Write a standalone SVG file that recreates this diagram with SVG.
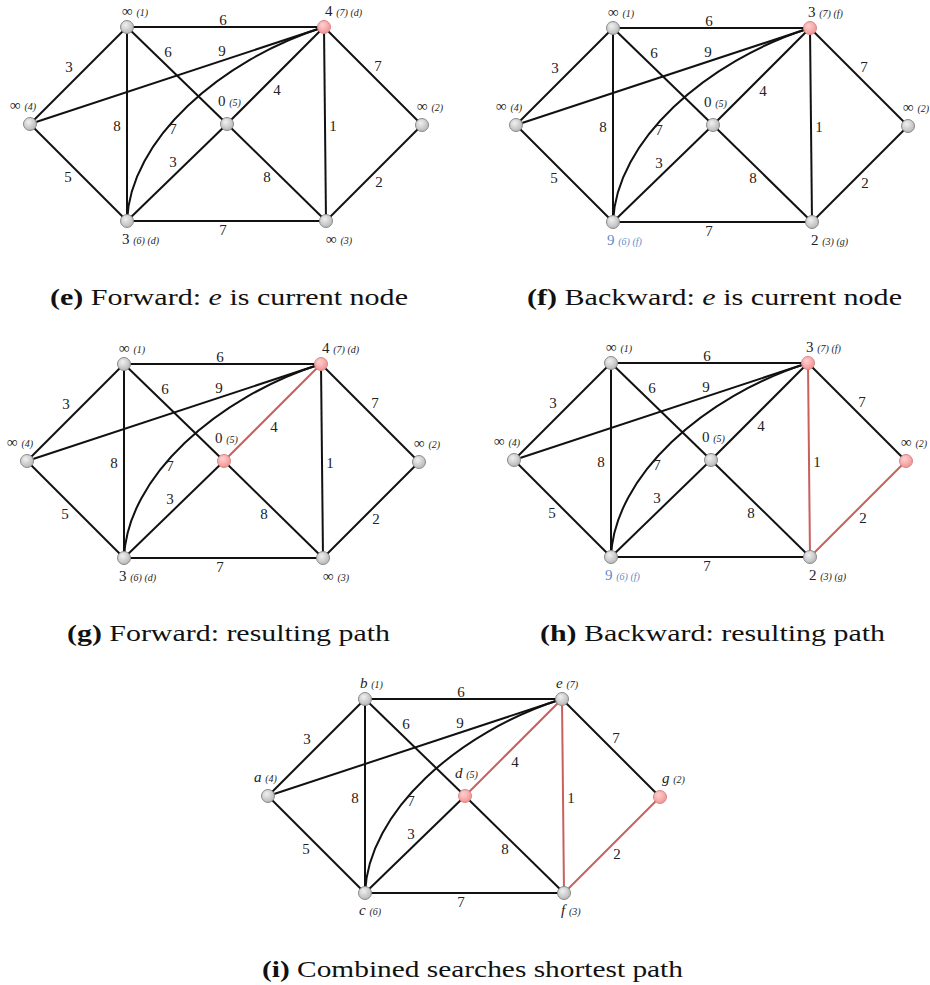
<svg xmlns="http://www.w3.org/2000/svg" width="930" height="985" viewBox="0 0 930 985">
<defs>
<radialGradient id="gGray" cx="0.4" cy="0.35" r="0.7">
<stop offset="0" stop-color="#f0f0f0"/><stop offset="1" stop-color="#b4b4b4"/>
</radialGradient>
<radialGradient id="gPink" cx="0.4" cy="0.35" r="0.7">
<stop offset="0" stop-color="#ffd0d0"/><stop offset="1" stop-color="#f09090"/>
</radialGradient>
</defs>
<style>
.edge{stroke:#111;stroke-width:2;fill:none}
.red{stroke:#c8605e;stroke-width:2;fill:none}
.el{font-family:"Liberation Serif",serif;font-size:15px;fill:#222;text-anchor:middle}
.nl{font-family:"Liberation Serif",serif;font-size:15px;fill:#222}
.nl .s{font-size:10px;font-style:italic}
.nl .i{font-style:italic}
.blue{fill:#5f8ccc}
.n{fill:url(#gGray);stroke:#8a8a8a;stroke-width:1}
.p{fill:url(#gPink);stroke:#d88888;stroke-width:1}
.cap{font-family:"Liberation Serif",serif;font-size:24px;fill:#111}
.cap .b{font-weight:bold}
.cap .i{font-style:italic}
</style>
<rect width="930" height="985" fill="#fff"/>

<!-- Panel e -->
<g id="panel-e">
<g id="e-connectors">
<line class="edge" x1="30" y1="124" x2="127" y2="27"/>
<line class="edge" x1="30" y1="124" x2="127" y2="221"/>
<line class="edge" x1="30" y1="124" x2="324" y2="27"/>
<line class="edge" x1="127" y1="27" x2="324" y2="27"/>
<line class="edge" x1="127" y1="27" x2="127" y2="221"/>
<line class="edge" x1="127" y1="27" x2="227" y2="124"/>
<path class="edge" d="M127,221 C130,140 220,60 324,27"/>
<line class="edge" x1="127" y1="221" x2="227" y2="124"/>
<line class="edge" x1="227" y1="124" x2="324" y2="27"/>
<line class="edge" x1="127" y1="221" x2="326" y2="221"/>
<line class="edge" x1="227" y1="124" x2="326" y2="221"/>
<line class="edge" x1="324" y1="27" x2="326" y2="221"/>
<line class="edge" x1="324" y1="27" x2="422" y2="125"/>
<line class="edge" x1="326" y1="221" x2="422" y2="125"/>
<text class="el" x="223" y="25">6</text>
<text class="el" x="168" y="57">6</text>
<text class="el" x="222" y="56">9</text>
<text class="el" x="69" y="72">3</text>
<text class="el" x="117" y="131">8</text>
<text class="el" x="173" y="134">7</text>
<text class="el" x="277" y="95">4</text>
<text class="el" x="333" y="131">1</text>
<text class="el" x="378" y="71">7</text>
<text class="el" x="173" y="167">3</text>
<text class="el" x="68" y="182">5</text>
<text class="el" x="267" y="182">8</text>
<text class="el" x="379" y="187">2</text>
<text class="el" x="223" y="235">7</text>
</g>
<g id="e-a"><circle class="n" cx="30" cy="124" r="6.5"/><text class="nl" x="10" y="110">∞ <tspan class="s">(4)</tspan></text></g>
<g id="e-b"><circle class="n" cx="127" cy="27" r="6.5"/><text class="nl" x="122" y="16">∞ <tspan class="s">(1)</tspan></text></g>
<g id="e-d"><circle class="n" cx="227" cy="124" r="6.5"/><text class="nl" x="218" y="106">0 <tspan class="s">(5)</tspan></text></g>
<g id="e-e"><circle class="p" cx="324" cy="27" r="6.5"/><text class="nl" x="325" y="16">4 <tspan class="s">(7) (d)</tspan></text></g>
<g id="e-g"><circle class="n" cx="422" cy="125" r="6.5"/><text class="nl" x="417" y="111">∞ <tspan class="s">(2)</tspan></text></g>
<g id="e-c"><circle class="n" cx="127" cy="221" r="6.5"/><text class="nl" x="122" y="244">3 <tspan class="s">(6) (d)</tspan></text></g>
<g id="e-f"><circle class="n" cx="326" cy="221" r="6.5"/><text class="nl" x="326" y="244">∞ <tspan class="s">(3)</tspan></text></g>
</g>

<!-- Panel f -->
<g id="panel-f" transform="translate(486,1)">
<g id="f-connectors">
<line class="edge" x1="30" y1="124" x2="127" y2="27"/>
<line class="edge" x1="30" y1="124" x2="127" y2="221"/>
<line class="edge" x1="30" y1="124" x2="324" y2="27"/>
<line class="edge" x1="127" y1="27" x2="324" y2="27"/>
<line class="edge" x1="127" y1="27" x2="127" y2="221"/>
<line class="edge" x1="127" y1="27" x2="227" y2="124"/>
<path class="edge" d="M127,221 C130,140 220,60 324,27"/>
<line class="edge" x1="127" y1="221" x2="227" y2="124"/>
<line class="edge" x1="227" y1="124" x2="324" y2="27"/>
<line class="edge" x1="127" y1="221" x2="326" y2="221"/>
<line class="edge" x1="227" y1="124" x2="326" y2="221"/>
<line class="edge" x1="324" y1="27" x2="326" y2="221"/>
<line class="edge" x1="324" y1="27" x2="422" y2="125"/>
<line class="edge" x1="326" y1="221" x2="422" y2="125"/>
<text class="el" x="223" y="25">6</text>
<text class="el" x="168" y="57">6</text>
<text class="el" x="222" y="56">9</text>
<text class="el" x="69" y="72">3</text>
<text class="el" x="117" y="131">8</text>
<text class="el" x="173" y="134">7</text>
<text class="el" x="277" y="95">4</text>
<text class="el" x="333" y="131">1</text>
<text class="el" x="378" y="71">7</text>
<text class="el" x="173" y="167">3</text>
<text class="el" x="68" y="182">5</text>
<text class="el" x="267" y="182">8</text>
<text class="el" x="379" y="187">2</text>
<text class="el" x="223" y="235">7</text>
</g>
<g id="f-a"><circle class="n" cx="30" cy="124" r="6.5"/><text class="nl" x="10" y="110">∞ <tspan class="s">(4)</tspan></text></g>
<g id="f-b"><circle class="n" cx="127" cy="27" r="6.5"/><text class="nl" x="122" y="16">∞ <tspan class="s">(1)</tspan></text></g>
<g id="f-d"><circle class="n" cx="227" cy="124" r="6.5"/><text class="nl" x="218" y="106">0 <tspan class="s">(5)</tspan></text></g>
<g id="f-e"><circle class="p" cx="324" cy="27" r="6.5"/><text class="nl" x="322" y="16">3 <tspan class="s">(7) (f)</tspan></text></g>
<g id="f-g"><circle class="n" cx="422" cy="125" r="6.5"/><text class="nl" x="417" y="111">∞ <tspan class="s">(2)</tspan></text></g>
<g id="f-c"><circle class="n" cx="127" cy="221" r="6.5"/><text class="nl blue" x="121" y="244">9 <tspan class="s">(6) (f)</tspan></text></g>
<g id="f-f"><circle class="n" cx="326" cy="221" r="6.5"/><text class="nl" x="325" y="244">2 <tspan class="s">(3) (g)</tspan></text></g>
</g>

<!-- Panel g -->
<g id="panel-g" transform="translate(-3,337)">
<g id="g-connectors">
<line class="edge" x1="30" y1="124" x2="127" y2="27"/>
<line class="edge" x1="30" y1="124" x2="127" y2="221"/>
<line class="edge" x1="30" y1="124" x2="324" y2="27"/>
<line class="edge" x1="127" y1="27" x2="324" y2="27"/>
<line class="edge" x1="127" y1="27" x2="127" y2="221"/>
<line class="edge" x1="127" y1="27" x2="227" y2="124"/>
<path class="edge" d="M127,221 C130,140 220,60 324,27"/>
<line class="edge" x1="127" y1="221" x2="227" y2="124"/>
<line class="red" x1="227" y1="124" x2="324" y2="27"/>
<line class="edge" x1="127" y1="221" x2="326" y2="221"/>
<line class="edge" x1="227" y1="124" x2="326" y2="221"/>
<line class="edge" x1="324" y1="27" x2="326" y2="221"/>
<line class="edge" x1="324" y1="27" x2="422" y2="125"/>
<line class="edge" x1="326" y1="221" x2="422" y2="125"/>
<text class="el" x="223" y="25">6</text>
<text class="el" x="168" y="57">6</text>
<text class="el" x="222" y="56">9</text>
<text class="el" x="69" y="72">3</text>
<text class="el" x="117" y="131">8</text>
<text class="el" x="173" y="134">7</text>
<text class="el" x="277" y="95">4</text>
<text class="el" x="333" y="131">1</text>
<text class="el" x="378" y="71">7</text>
<text class="el" x="173" y="167">3</text>
<text class="el" x="68" y="182">5</text>
<text class="el" x="267" y="182">8</text>
<text class="el" x="379" y="187">2</text>
<text class="el" x="223" y="235">7</text>
</g>
<g id="g-a"><circle class="n" cx="30" cy="124" r="6.5"/><text class="nl" x="10" y="110">∞ <tspan class="s">(4)</tspan></text></g>
<g id="g-b"><circle class="n" cx="127" cy="27" r="6.5"/><text class="nl" x="122" y="16">∞ <tspan class="s">(1)</tspan></text></g>
<g id="g-d"><circle class="p" cx="227" cy="124" r="6.5"/><text class="nl" x="218" y="106">0 <tspan class="s">(5)</tspan></text></g>
<g id="g-e"><circle class="p" cx="324" cy="27" r="6.5"/><text class="nl" x="325" y="16">4 <tspan class="s">(7) (d)</tspan></text></g>
<g id="g-g"><circle class="n" cx="422" cy="125" r="6.5"/><text class="nl" x="417" y="111">∞ <tspan class="s">(2)</tspan></text></g>
<g id="g-c"><circle class="n" cx="127" cy="221" r="6.5"/><text class="nl" x="122" y="244">3 <tspan class="s">(6) (d)</tspan></text></g>
<g id="g-f"><circle class="n" cx="326" cy="221" r="6.5"/><text class="nl" x="326" y="244">∞ <tspan class="s">(3)</tspan></text></g>
</g>

<!-- Panel h -->
<g id="panel-h" transform="translate(484,336)">
<g id="h-connectors">
<line class="edge" x1="30" y1="124" x2="127" y2="27"/>
<line class="edge" x1="30" y1="124" x2="127" y2="221"/>
<line class="edge" x1="30" y1="124" x2="324" y2="27"/>
<line class="edge" x1="127" y1="27" x2="324" y2="27"/>
<line class="edge" x1="127" y1="27" x2="127" y2="221"/>
<line class="edge" x1="127" y1="27" x2="227" y2="124"/>
<path class="edge" d="M127,221 C130,140 220,60 324,27"/>
<line class="edge" x1="127" y1="221" x2="227" y2="124"/>
<line class="edge" x1="227" y1="124" x2="324" y2="27"/>
<line class="edge" x1="127" y1="221" x2="326" y2="221"/>
<line class="edge" x1="227" y1="124" x2="326" y2="221"/>
<line class="red" x1="324" y1="27" x2="326" y2="221"/>
<line class="edge" x1="324" y1="27" x2="422" y2="125"/>
<line class="red" x1="326" y1="221" x2="422" y2="125"/>
<text class="el" x="223" y="25">6</text>
<text class="el" x="168" y="57">6</text>
<text class="el" x="222" y="56">9</text>
<text class="el" x="69" y="72">3</text>
<text class="el" x="117" y="131">8</text>
<text class="el" x="173" y="134">7</text>
<text class="el" x="277" y="95">4</text>
<text class="el" x="333" y="131">1</text>
<text class="el" x="378" y="71">7</text>
<text class="el" x="173" y="167">3</text>
<text class="el" x="68" y="182">5</text>
<text class="el" x="267" y="182">8</text>
<text class="el" x="379" y="187">2</text>
<text class="el" x="223" y="235">7</text>
</g>
<g id="h-a"><circle class="n" cx="30" cy="124" r="6.5"/><text class="nl" x="10" y="110">∞ <tspan class="s">(4)</tspan></text></g>
<g id="h-b"><circle class="n" cx="127" cy="27" r="6.5"/><text class="nl" x="122" y="16">∞ <tspan class="s">(1)</tspan></text></g>
<g id="h-d"><circle class="n" cx="227" cy="124" r="6.5"/><text class="nl" x="218" y="106">0 <tspan class="s">(5)</tspan></text></g>
<g id="h-e"><circle class="p" cx="324" cy="27" r="6.5"/><text class="nl" x="322" y="16">3 <tspan class="s">(7) (f)</tspan></text></g>
<g id="h-g"><circle class="p" cx="422" cy="125" r="6.5"/><text class="nl" x="417" y="111">∞ <tspan class="s">(2)</tspan></text></g>
<g id="h-c"><circle class="n" cx="127" cy="221" r="6.5"/><text class="nl blue" x="121" y="244">9 <tspan class="s">(6) (f)</tspan></text></g>
<g id="h-f"><circle class="n" cx="326" cy="221" r="6.5"/><text class="nl" x="325" y="244">2 <tspan class="s">(3) (g)</tspan></text></g>
</g>

<!-- Panel i -->
<g id="panel-i" transform="translate(238,672)">
<g id="i-connectors">
<line class="edge" x1="30" y1="124" x2="127" y2="27"/>
<line class="edge" x1="30" y1="124" x2="127" y2="221"/>
<line class="edge" x1="30" y1="124" x2="324" y2="27"/>
<line class="edge" x1="127" y1="27" x2="324" y2="27"/>
<line class="edge" x1="127" y1="27" x2="127" y2="221"/>
<line class="edge" x1="127" y1="27" x2="227" y2="124"/>
<path class="edge" d="M127,221 C130,140 220,60 324,27"/>
<line class="edge" x1="127" y1="221" x2="227" y2="124"/>
<line class="red" x1="227" y1="124" x2="324" y2="27"/>
<line class="edge" x1="127" y1="221" x2="326" y2="221"/>
<line class="edge" x1="227" y1="124" x2="326" y2="221"/>
<line class="red" x1="324" y1="27" x2="326" y2="221"/>
<line class="edge" x1="324" y1="27" x2="422" y2="125"/>
<line class="red" x1="326" y1="221" x2="422" y2="125"/>
<text class="el" x="223" y="25">6</text>
<text class="el" x="168" y="57">6</text>
<text class="el" x="222" y="56">9</text>
<text class="el" x="69" y="72">3</text>
<text class="el" x="117" y="131">8</text>
<text class="el" x="173" y="134">7</text>
<text class="el" x="277" y="95">4</text>
<text class="el" x="333" y="131">1</text>
<text class="el" x="378" y="71">7</text>
<text class="el" x="173" y="167">3</text>
<text class="el" x="68" y="182">5</text>
<text class="el" x="267" y="182">8</text>
<text class="el" x="379" y="187">2</text>
<text class="el" x="223" y="235">7</text>
</g>
<g id="i-a"><circle class="n" cx="30" cy="124" r="6.5"/><text class="nl" x="16" y="110"><tspan class="i">a</tspan> <tspan class="s">(4)</tspan></text></g>
<g id="i-b"><circle class="n" cx="127" cy="27" r="6.5"/><text class="nl" x="122" y="16"><tspan class="i">b</tspan> <tspan class="s">(1)</tspan></text></g>
<g id="i-d"><circle class="p" cx="227" cy="124" r="6.5"/><text class="nl" x="217" y="106"><tspan class="i">d</tspan> <tspan class="s">(5)</tspan></text></g>
<g id="i-e"><circle class="n" cx="324" cy="27" r="6.5"/><text class="nl" x="318" y="16"><tspan class="i">e</tspan> <tspan class="s">(7)</tspan></text></g>
<g id="i-g"><circle class="p" cx="422" cy="125" r="6.5"/><text class="nl" x="424" y="111"><tspan class="i">g</tspan> <tspan class="s">(2)</tspan></text></g>
<g id="i-c"><circle class="n" cx="127" cy="221" r="6.5"/><text class="nl" x="121" y="243"><tspan class="i">c</tspan> <tspan class="s">(6)</tspan></text></g>
<g id="i-f"><circle class="n" cx="326" cy="221" r="6.5"/><text class="nl" x="323" y="243"><tspan class="i">f</tspan> <tspan class="s">(3)</tspan></text></g>
</g>

<!-- Captions -->
<g id="captions">
<text class="cap" x="50" y="305" textLength="358" lengthAdjust="spacingAndGlyphs"><tspan class="b">(e)</tspan> Forward: <tspan class="i">e</tspan> is current node</text>
<text class="cap" x="527" y="305" textLength="375" lengthAdjust="spacingAndGlyphs"><tspan class="b">(f)</tspan> Backward: <tspan class="i">e</tspan> is current node</text>
<text class="cap" x="67" y="641" textLength="323" lengthAdjust="spacingAndGlyphs"><tspan class="b">(g)</tspan> Forward: resulting path</text>
<text class="cap" x="540" y="641" textLength="345" lengthAdjust="spacingAndGlyphs"><tspan class="b">(h)</tspan> Backward: resulting path</text>
<text class="cap" x="262" y="977" textLength="421" lengthAdjust="spacingAndGlyphs"><tspan class="b">(i)</tspan> Combined searches shortest path</text>
</g>
</svg>
